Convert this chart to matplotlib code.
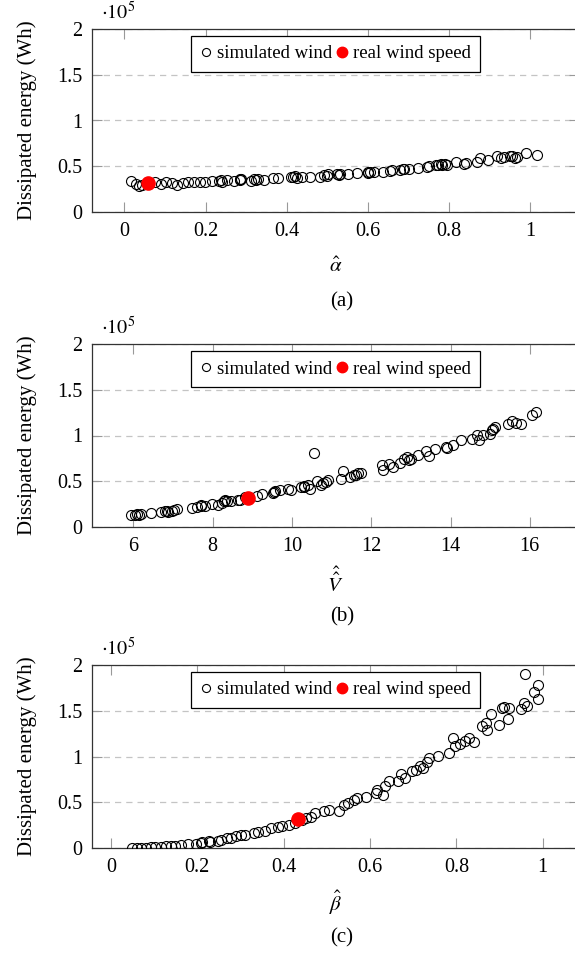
import matplotlib
matplotlib.use("Agg")
import matplotlib.pyplot as plt
from matplotlib.lines import Line2D
from matplotlib.ticker import FixedLocator, FuncFormatter

plt.rcParams['font.family'] = ['Liberation Serif', 'DejaVu Serif']
plt.rcParams['mathtext.fontset'] = 'stix'

# (a) alpha hat
alpha_x = [0.017, 0.028, 0.035, 0.044, 0.076, 0.090, 0.103, 0.117, 0.130, 0.144,
           0.157, 0.171, 0.185, 0.198, 0.216, 0.234, 0.239, 0.252, 0.271, 0.284,
           0.285, 0.311, 0.320, 0.325, 0.343, 0.366, 0.379, 0.411, 0.415, 0.424,
           0.438, 0.456, 0.483, 0.492, 0.501, 0.524, 0.528, 0.551, 0.574, 0.601,
           0.605, 0.614, 0.637, 0.655, 0.660, 0.678, 0.687, 0.700, 0.723, 0.746,
           0.750, 0.768, 0.773, 0.782, 0.791, 0.795, 0.818, 0.836, 0.841, 0.868,
           0.877, 0.895, 0.918, 0.927, 0.936, 0.954, 0.963, 0.967, 0.990, 1.017,
           0.240, 0.288, 0.330, 0.420, 0.500, 0.530, 0.600, 0.690, 0.780, 0.950]
alpha_e = [0.336, 0.303, 0.288, 0.299, 0.328, 0.310, 0.325, 0.318, 0.299, 0.318,
           0.325, 0.328, 0.328, 0.325, 0.343, 0.343, 0.354, 0.347, 0.343, 0.347,
           0.361, 0.343, 0.361, 0.347, 0.350, 0.372, 0.372, 0.383, 0.383, 0.376,
           0.380, 0.387, 0.383, 0.401, 0.412, 0.412, 0.401, 0.420, 0.427, 0.431,
           0.442, 0.438, 0.442, 0.449, 0.464, 0.464, 0.467, 0.474, 0.485, 0.493,
           0.504, 0.515, 0.511, 0.518, 0.529, 0.515, 0.551, 0.529, 0.540, 0.551,
           0.591, 0.566, 0.609, 0.588, 0.602, 0.617, 0.588, 0.602, 0.646, 0.628,
           0.330, 0.360, 0.365, 0.392, 0.398, 0.420, 0.440, 0.470, 0.522, 0.610]
alpha_real = (0.058, 0.318)

# (b) V hat hat
v_x = [5.95, 6.05, 6.14, 6.19, 6.46, 6.70, 6.79, 6.88, 6.97, 7.02,
       7.11, 7.48, 7.62, 7.72, 7.81, 7.99, 8.13, 8.23, 8.32, 8.37,
       8.46, 8.64, 8.69, 8.83, 9.11, 9.25, 9.53, 9.57, 9.71, 9.90,
       9.99, 10.22, 10.31, 10.41, 10.45, 10.55, 10.64, 10.73, 10.78, 10.87,
       10.92, 11.24, 11.29, 11.47, 11.57, 11.66, 11.75, 12.26, 12.31, 12.45,
       12.54, 12.73, 12.82, 12.91, 13.00, 13.19, 13.37, 13.47, 13.61, 13.89,
       13.90, 14.07, 14.26, 14.53, 14.67, 14.72, 14.81, 14.99, 15.04, 15.12,
       15.46, 15.55, 15.65, 15.79, 16.06, 16.16, 6.10, 6.85, 7.70, 8.30,
       9.55, 10.30, 11.62, 12.95, 15.08]
v_e = [0.128, 0.135, 0.132, 0.143, 0.150, 0.165, 0.176, 0.168, 0.172, 0.183,
       0.194, 0.205, 0.223, 0.227, 0.230, 0.256, 0.245, 0.267, 0.296, 0.282,
       0.289, 0.296, 0.296, 0.329, 0.336, 0.362, 0.373, 0.388, 0.402, 0.420,
       0.399, 0.435, 0.446, 0.464, 0.420, 0.804, 0.508, 0.464, 0.483, 0.497,
       0.512, 0.523, 0.607, 0.545, 0.563, 0.589, 0.592, 0.673, 0.622, 0.691,
       0.658, 0.702, 0.739, 0.768, 0.746, 0.786, 0.830, 0.775, 0.848, 0.878,
       0.863, 0.892, 0.951, 0.958, 1.002, 0.951, 1.005, 1.013, 1.057, 1.097,
       1.126, 1.159, 1.141, 1.130, 1.221, 1.258, 0.140, 0.180, 0.235, 0.285,
       0.380, 0.440, 0.570, 0.735, 1.075]
v_real = (8.90, 0.318)

# (c) beta hat
beta_x = [0.049, 0.060, 0.070, 0.081, 0.092, 0.102, 0.115, 0.128, 0.138, 0.149,
          0.162, 0.179, 0.196, 0.209, 0.211, 0.226, 0.230, 0.247, 0.255, 0.268,
          0.277, 0.289, 0.302, 0.311, 0.332, 0.340, 0.357, 0.370, 0.387, 0.396,
          0.413, 0.426, 0.443, 0.451, 0.464, 0.472, 0.494, 0.506, 0.528, 0.540,
          0.549, 0.562, 0.570, 0.591, 0.613, 0.617, 0.630, 0.634, 0.643, 0.664,
          0.672, 0.681, 0.698, 0.706, 0.715, 0.723, 0.732, 0.736, 0.757, 0.783,
          0.793, 0.796, 0.809, 0.821, 0.830, 0.841, 0.860, 0.868, 0.872, 0.881,
          0.898, 0.906, 0.911, 0.919, 0.921, 0.949, 0.957, 0.960, 0.963, 0.979,
          0.989, 0.989]
beta_e = [0.000, 0.000, 0.004, 0.004, 0.007, 0.007, 0.015, 0.018, 0.022, 0.026,
          0.033, 0.040, 0.047, 0.051, 0.062, 0.073, 0.062, 0.080, 0.091, 0.109,
          0.109, 0.128, 0.139, 0.146, 0.164, 0.175, 0.182, 0.219, 0.226, 0.237,
          0.255, 0.274, 0.310, 0.325, 0.336, 0.383, 0.405, 0.416, 0.409, 0.467,
          0.493, 0.529, 0.547, 0.562, 0.606, 0.639, 0.584, 0.675, 0.730, 0.737,
          0.810, 0.766, 0.839, 0.847, 0.894, 0.869, 0.942, 0.985, 1.004, 1.036,
          1.204, 1.120, 1.139, 1.168, 1.197, 1.161, 1.332, 1.369, 1.285, 1.467,
          1.343, 1.526, 1.540, 1.405, 1.526, 1.515, 1.588, 1.898, 1.551, 1.704,
          1.777, 1.631]
beta_real = (0.432, 0.321)

panels = [
    (alpha_x, alpha_e, alpha_real, (-0.08, 1.12), [0, 0.2, 0.4, 0.6, 0.8, 1], r"$\hat{\alpha}$", "(a)", 212),
    (v_x, v_e, v_real, (4.96, 17.24), [6, 8, 10, 12, 14, 16], r"$\hat{\hat{V}}$", "(b)", 527),
    (beta_x, beta_e, beta_real, (-0.044, 1.084), [0, 0.2, 0.4, 0.6, 0.8, 1], r"$\hat{\beta}$", "(c)", 848),
]

W, H = 575, 966
fig = plt.figure(figsize=(W / 100, H / 100), dpi=100)

for xs, es, real, xlim, xticks, xlabel, caption, bottom_px in panels:
    ax = fig.add_axes([92 / W, (H - bottom_px) / H, 487 / W, 183 / H])
    ax.plot(xs, [e * 1e5 for e in es], linestyle='none', marker='o', markersize=7.2,
            markerfacecolor='none', markeredgecolor='black', markeredgewidth=0.8, zorder=3)
    ax.plot([real[0]], [real[1] * 1e5], linestyle='none', marker='o', markersize=9.5,
            color='#ff0000', zorder=4)
    ax.set_xlim(*xlim)
    ax.set_ylim(0, 2e5)
    ax.xaxis.set_major_locator(FixedLocator(xticks))
    ax.yaxis.set_major_locator(FixedLocator([0, 0.5e5, 1e5, 1.5e5, 2e5]))
    ax.xaxis.set_major_formatter(FuncFormatter(lambda v, p: f"{v:g}"))
    ax.yaxis.set_major_formatter(FuncFormatter(lambda v, p: f"{v / 1e5:g}"))
    ax.tick_params(axis='both', direction='in', length=7, width=0.8, color='#999999',
                   labelsize=14.5, pad=7, top=True, right=True)
    ax.yaxis.grid(True, linestyle=(0, (5, 4)), color='#c4c4c4', linewidth=0.9)
    ax.set_axisbelow(True)
    for sp in ax.spines.values():
        sp.set_color('#333333')
        sp.set_linewidth(0.9)

    ax.set_xlabel(xlabel, fontsize=15)
    ax.xaxis.set_label_coords(0.5, -55 / 183)
    ax.xaxis.label.set_va('center')
    ax.set_ylabel("Dissipated energy (Wh)", fontsize=15)
    ax.yaxis.set_label_coords(-0.133, 0.5)
    ax.yaxis.label.set_va('center')

    ax.text(0.018, 1.0 + 5 / 183, r"$\cdot 10^5$", transform=ax.transAxes,
            fontsize=14.5, ha='left', va='bottom')

    handles = [Line2D([], [], linestyle='none', marker='o', markersize=5.8, markerfacecolor='none',
                      markeredgecolor='black', markeredgewidth=0.8),
               Line2D([], [], linestyle='none', marker='o', markersize=7.5, color='#ff0000')]
    leg = ax.legend(handles, ["simulated wind", "real wind speed"], ncol=2,
                    loc='upper center', bbox_to_anchor=(0.5, 1 - 7 / 183),
                    fontsize=13.5, frameon=True, fancybox=False, edgecolor='black',
                    framealpha=1, handlelength=0.6, handletextpad=0.3,
                    columnspacing=0.2, borderpad=0.5, borderaxespad=0)
    leg.get_frame().set_linewidth(0.9)

    fig.text(342 / W, 1 - (bottom_px + 90) / H, caption, fontsize=15, ha='center', va='center')

fig.savefig("out.png", dpi=100)
